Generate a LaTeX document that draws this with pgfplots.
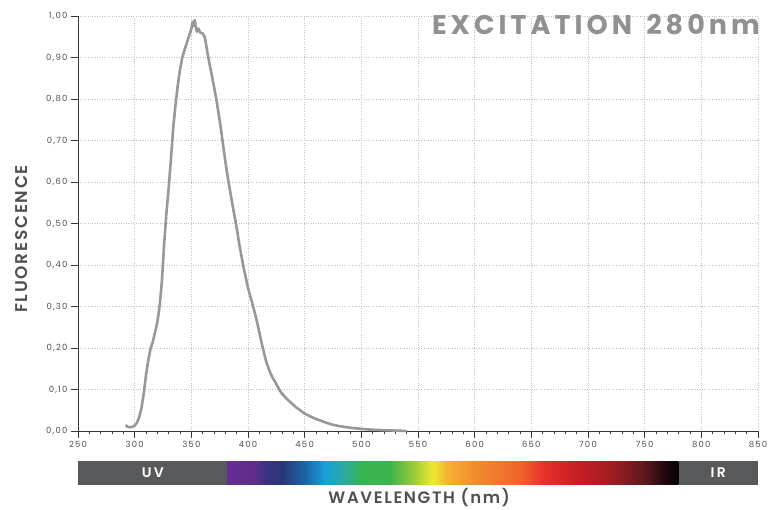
\documentclass[border=0pt]{standalone}
\usepackage{fontspec}
\setmainfont{Poppins}
\newfontfamily\tickfont[LetterSpace=14]{Poppins}
\newfontfamily\labfont[LetterSpace=10]{Poppins SemiBold}
\newfontfamily\titlefont[LetterSpace=15]{Poppins}
\usepackage{pgfplots}
\pgfplotsset{compat=1.18}
\definecolor{curvegray}{RGB}{152,152,154}
\definecolor{axisdark}{RGB}{55,55,57}
\definecolor{labgray}{RGB}{80,80,82}
\definecolor{titlegray}{RGB}{145,145,147}
\definecolor{gridgray}{RGB}{195,195,195}
\definecolor{bandgray}{RGB}{88,89,91}
\definecolor{sp1}{RGB}{102,45,145}
\definecolor{sp2}{RGB}{95,45,140}
\definecolor{sp3}{RGB}{60,50,125}
\definecolor{sp4}{RGB}{40,55,120}
\definecolor{sp5}{RGB}{30,100,165}
\definecolor{sp6}{RGB}{25,160,215}
\definecolor{sp7}{RGB}{45,170,160}
\definecolor{sp8}{RGB}{55,180,80}
\definecolor{sp9}{RGB}{60,180,75}
\definecolor{sp10}{RGB}{150,200,60}
\definecolor{sp11}{RGB}{240,232,50}
\definecolor{sp12}{RGB}{245,180,50}
\definecolor{sp13}{RGB}{242,140,48}
\definecolor{sp14}{RGB}{238,100,45}
\definecolor{sp15}{RGB}{232,50,42}
\definecolor{sp16}{RGB}{200,30,35}
\definecolor{sp17}{RGB}{160,30,35}
\definecolor{sp18}{RGB}{90,25,30}
\definecolor{sp19}{RGB}{25,5,10}
\definecolor{sp20}{RGB}{5,0,5}
\pgfdeclarehorizontalshading{spectrum}{100bp}{color(0bp)=(sp1); color(25bp)=(sp1); color(27.89bp)=(sp2); color(29.15bp)=(sp3); color(31.03bp)=(sp4); color(33.54bp)=(sp5); color(35.80bp)=(sp6); color(37.94bp)=(sp7); color(39.82bp)=(sp8); color(42.96bp)=(sp9); color(45.48bp)=(sp10); color(47.74bp)=(sp11); color(49.25bp)=(sp12); color(52.39bp)=(sp13); color(57.41bp)=(sp14); color(59.93bp)=(sp15); color(63.69bp)=(sp16); color(67.46bp)=(sp17); color(71.23bp)=(sp18); color(73.74bp)=(sp19); color(75bp)=(sp20); color(100bp)=(sp20)}
\begin{document}
\begin{tikzpicture}
\path[use as bounding box] (-78pt,-79pt) rectangle (696pt,431pt);
\begin{axis}[
  at={(0,0)}, anchor=south west,
  scale only axis, width=680pt, height=415pt,
  xmin=250, xmax=850, ymin=0, ymax=1,
  axis lines=left, axis line style={-, axisdark, line width=0.9pt},
  xtick={250,300,...,850}, ytick={0,0.1,...,1.0},
  minor x tick num=4,
  tick align=outside,
  major tick length=7pt, minor tick length=3.5pt,
  tick style={axisdark, line width=0.8pt},
  minor tick style={axisdark, line width=0.6pt},
  grid=major, major grid style={gridgray, dotted, line width=0.7pt},
  /pgf/number format/assume math mode=true,
  ticklabel style={font=\tickfont\fontsize{8.5}{10}\selectfont, text=labgray},
  yticklabel style={/pgf/number format/.cd, fixed, fixed zerofill, precision=2, use comma},
  xticklabel style={/pgf/number format/.cd, int detect, 1000 sep={}},
  clip=false,
]
\addplot[curvegray, line width=2.6pt, line join=round] coordinates {
(292,0.014) (294,0.010) (296,0.009) (298,0.010) (300,0.013) (302,0.020) (304,0.033) (306,0.055) (308,0.090) (310,0.135) (312,0.170) (314,0.198) (316,0.215) (318,0.238) (320,0.262) (322,0.300) (324,0.360) (326,0.450) (328,0.525) (330,0.585) (332,0.655) (334,0.730) (336,0.785) (338,0.832) (340,0.870) (342,0.900) (344,0.918) (346,0.935) (348,0.952) (350,0.968) (351,0.985) (352,0.976) (353,0.990) (354,0.972) (355,0.962) (356,0.970) (358,0.960) (360,0.958) (362,0.948) (364,0.915) (366,0.885) (368,0.858) (370,0.830) (372,0.800) (374,0.766) (376,0.730) (378,0.690) (380,0.650) (382,0.613) (384,0.582) (386,0.550) (388,0.520) (390,0.490) (392,0.455) (394,0.425) (396,0.395) (398,0.370) (400,0.345) (402,0.325) (404,0.305) (406,0.285) (408,0.262) (410,0.238) (412,0.212) (414,0.190) (416,0.168) (418,0.152) (420,0.138) (422,0.127) (424,0.118) (426,0.108) (428,0.098) (430,0.090) (434,0.078) (438,0.068) (442,0.058) (446,0.050) (450,0.042) (455,0.035) (460,0.029) (465,0.024) (470,0.019) (475,0.015) (480,0.012) (490,0.008) (500,0.005) (510,0.003) (520,0.002) (530,0.001) (540,0.000)
};
\fill[bandgray] (axis cs:250,-0.0723) rectangle (axis cs:382,-0.130);
\fill[bandgray] (axis cs:780,-0.0723) rectangle (axis cs:850,-0.130);
\shade[shading=spectrum] (axis cs:382,-0.0723) rectangle (axis cs:780,-0.130);
\node[anchor=base, text=white, font=\labfont\fontsize{14}{15}\selectfont, inner sep=0pt] at ([yshift=-47pt]axis cs:316,0) {U\,V};
\node[anchor=base, text=white, font=\labfont\fontsize{14}{15}\selectfont, inner sep=0pt] at ([yshift=-47pt]axis cs:815,0) {I\,R};
\node[anchor=base, text=labgray, font=\labfont\fontsize{16.5}{18}\selectfont, inner sep=0pt] at ([yshift=-73pt]axis cs:551,0) {WAVELENGTH (nm)};
\node[anchor=base, rotate=90, text=labgray, font=\labfont\fontsize{17}{18}\selectfont, inner sep=0pt] at ([xshift=-50pt]axis description cs:0,0.4627) {FLUORESCENCE};
\node[anchor=base east, text=titlegray, font=\titlefont\bfseries\fontsize{27}{30}\selectfont, inner sep=0pt] at ([xshift=2pt,yshift=-19pt]axis description cs:1,1) {EXCITATION\hspace{14pt}280nm};
\end{axis}
\end{tikzpicture}
\end{document}
